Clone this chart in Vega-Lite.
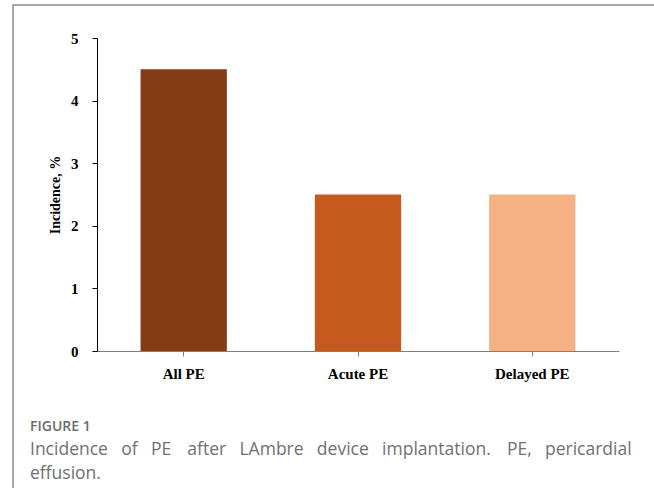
{
  "$schema": "https://vega.github.io/schema/vega-lite/v6.json",
  "width": 680,
  "height": 500,
  "autosize": {"type": "none"},
  "padding": {"left": 13, "top": 5, "right": 0, "bottom": 0},
  "background": "white",
  "config": {"view": {"stroke": "#8a8a8a", "strokeWidth": 1.5}},
  "data": {
    "values": [
      {"category": "All PE", "incidence": 4.5},
      {"category": "Acute PE", "incidence": 2.5},
      {"category": "Delayed PE", "incidence": 2.5}
    ]
  },
  "mark": {"type": "bar"},
  "encoding": {
    "x": {
      "field": "category",
      "type": "nominal",
      "sort": ["All PE", "Acute PE", "Delayed PE"],
      "scale": {"range": [84, 606], "paddingInner": 0.505, "paddingOuter": 0.25},
      "axis": {
        "orient": "bottom",
        "offset": -154,
        "title": null,
        "labelAngle": 0,
        "domainColor": "#7f7f7f",
        "domainWidth": 1.2,
        "tickColor": "#7f7f7f",
        "tickSize": 5,
        "labelFont": "Liberation Serif",
        "labelFontWeight": "bold",
        "labelFontSize": 15,
        "labelColor": "#000000",
        "labelPadding": 10
      }
    },
    "y": {
      "field": "incidence",
      "type": "quantitative",
      "scale": {"domain": [0, 5], "range": [346, 33], "nice": false},
      "axis": {
        "offset": -84,
        "values": [0, 1, 2, 3, 4, 5],
        "format": "d",
        "grid": false,
        "title": "Incidence, %",
        "titleFont": "Liberation Serif",
        "titleFontSize": 14,
        "titleFontWeight": "bold",
        "titleColor": "#000000",
        "titlePadding": 8,
        "labelFont": "Liberation Serif",
        "labelFontWeight": "bold",
        "labelFontSize": 15,
        "labelColor": "#000000",
        "labelPadding": 14,
        "domainColor": "#000000",
        "tickColor": "#000000",
        "tickSize": 5
      }
    },
    "color": {
      "field": "category",
      "type": "nominal",
      "scale": {"domain": ["All PE", "Acute PE", "Delayed PE"], "range": ["#843C15", "#C55A1E", "#F4B183"]},
      "legend": null
    }
  },
  "title": {
    "text": "FIGURE 1",
    "subtitle": ["Incidence \u2002of \u2002PE \u2002\u2009after \u2002LAmbre \u2002device \u2002implantation. \u2002\u2009PE, \u2002pericardial", "effusion."],
    "orient": "bottom",
    "anchor": "start",
    "frame": "group",
    "offset": -85,
    "dx": 17,
    "font": "Open Sans",
    "fontSize": 14,
    "fontWeight": 600,
    "color": "#6b6b6b",
    "subtitleFont": "Open Sans",
    "subtitleFontSize": 17.5,
    "subtitleColor": "#707070",
    "subtitlePadding": 7,
    "subtitleLineHeight": 24
  }
}
